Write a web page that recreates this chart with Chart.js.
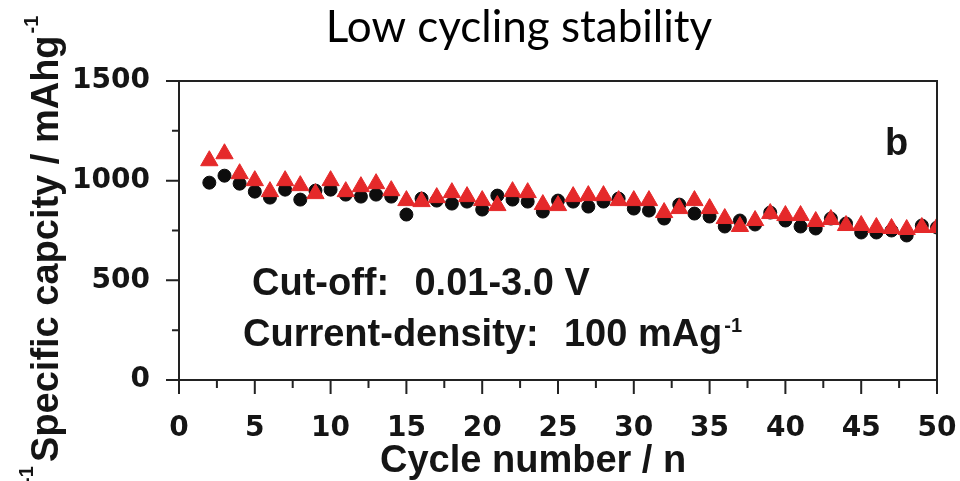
<!DOCTYPE html>
<html lang="en">
<head>
<meta charset="UTF-8">
<title>Low cycling stability</title>
<script src="https://cdn.jsdelivr.net/npm/chart.js"></script>
<style>
  html, body { margin: 0; padding: 0; background: #fff; }
</style>
</head>
<body>
<canvas id="cycleChart" width="960" height="481"></canvas>
<script>
// cycle index and capacities (mAh/g)
const cycles = [2, 3, 4, 5, 6, 7, 8, 9, 10, 11, 12, 13, 14, 15, 16, 17, 18, 19, 20, 21, 22, 23, 24, 25, 26,
                27, 28, 29, 30, 31, 32, 33, 34, 35, 36, 37, 38, 39, 40, 41, 42, 43, 44, 45, 46, 47, 48, 49, 50];
const capTriangle = [1100, 1135, 1035, 1000, 945, 1000, 975, 935, 1000, 945, 970, 985, 950, 900, 895, 915, 940, 920, 900, 875,
                     945, 940, 880, 875, 920, 925, 925, 900, 900, 900, 840, 860, 900, 860, 810, 770, 800, 835, 825, 825,
                     795, 805, 775, 775, 765, 760, 755, 765, 765];
const capCircle = [990, 1025, 985, 945, 915, 955, 905, 950, 955, 930, 920, 930, 920, 830, 910, 900, 885, 895, 855, 925,
                   905, 895, 845, 900, 895, 870, 895, 910, 860, 850, 810, 880, 835, 820, 770, 800, 780, 840, 800, 770,
                   760, 810, 785, 740, 740, 750, 725, 775, 765];
const xTicks = [0, 5, 10, 15, 20, 25, 30, 35, 40, 45, 50];
const yTicks = [0, 500, 1000, 1500];

const ink = '#151515';
const boldSans = '"Liberation Sans", Arial, sans-serif';
const tickFont = { family: '"DejaVu Sans", sans-serif', weight: 'bold', size: 28 };

function toPoints(ys) {
    return cycles.map((c, i) => ({ x: c, y: ys[i] }));
}

// "label: value" with the value set one em after the label, colon hugging the label
function labelValue(ctx, label, value, x, y, em) {
    ctx.fillText(label + ':', x, y);
    const vx = x + ctx.measureText(label).width + em;
    ctx.fillText(value, vx, y);
    return vx + ctx.measureText(value).width;
}

// frame, outward tick marks and all the text around the plot
const decorPlugin = {
    id: 'decor',
    afterDatasetsDraw(chart) {
        const ctx = chart.ctx;
        const area = chart.chartArea;
        const xs = chart.scales.x;
        const ys = chart.scales.y;
        ctx.save();
        ctx.strokeStyle = '#222';
        ctx.lineWidth = 2;
        ctx.strokeRect(area.left, area.top, area.right - area.left, area.bottom - area.top);

        ctx.beginPath();
        xTicks.forEach((v, i) => {
            const px = xs.getPixelForValue(v);
            ctx.moveTo(px, area.bottom);
            ctx.lineTo(px, area.bottom + 14);
            if (i < xTicks.length - 1) {
                const mx = xs.getPixelForValue((v + xTicks[i + 1]) / 2);
                ctx.moveTo(mx, area.bottom);
                ctx.lineTo(mx, area.bottom + 8);
            }
        });
        yTicks.forEach((v, i) => {
            const py = ys.getPixelForValue(v);
            ctx.moveTo(area.left, py);
            ctx.lineTo(area.left - 13, py);
            if (i < yTicks.length - 1) {
                const my = ys.getPixelForValue((v + yTicks[i + 1]) / 2);
                ctx.moveTo(area.left, my);
                ctx.lineTo(area.left - 7, my);
            }
        });
        ctx.stroke();

        ctx.textBaseline = 'alphabetic';

        // title
        ctx.fillStyle = '#000';
        ctx.font = '44px Lato, "Open Sans", sans-serif';
        ctx.textAlign = 'center';
        ctx.fillText('Low cycling stability', 519, 42);

        ctx.fillStyle = ink;
        ctx.textAlign = 'left';

        // x axis title
        ctx.font = 'bold 38px ' + boldSans;
        ctx.fillText('Cycle number / n', 380, 472);

        // y axis title, rotated
        ctx.save();
        ctx.translate(58, 462);
        ctx.rotate(-Math.PI / 2);
        ctx.font = 'bold 38px ' + boldSans;
        const yTitle = 'Specific capcity / mAhg';
        ctx.fillText(yTitle, 0, 0);
        const yw = ctx.measureText(yTitle).width;
        ctx.font = 'bold 20px ' + boldSans;
        ctx.fillText('-1', yw + 2, -20);
        ctx.restore();

        // leftover unit fragment at the lower left edge
        ctx.save();
        ctx.translate(33, 484);
        ctx.rotate(-Math.PI / 2);
        ctx.font = 'bold 20px ' + boldSans;
        ctx.fillText('-1', 0, 0);
        ctx.restore();

        // test conditions
        ctx.font = 'bold 38px ' + boldSans;
        labelValue(ctx, 'Cut-off', '0.01-3.0 V', 252, 295, 38);
        const end2 = labelValue(ctx, 'Current-density', '100 mAg', 243, 346, 38);
        ctx.font = 'bold 20px ' + boldSans;
        ctx.fillText('-1', end2 + 2, 332);

        // panel letter
        ctx.font = 'bold 38px ' + boldSans;
        ctx.fillText('b', 885, 155);
        ctx.restore();
    }
};

new Chart(document.getElementById('cycleChart'), {
    type: 'scatter',
    data: {
        datasets: [
            {
                label: 'triangle',
                data: toPoints(capTriangle),
                pointStyle: 'triangle',
                pointRadius: 10,
                backgroundColor: '#e5292a',
                borderColor: '#e5292a',
                borderWidth: 1
            },
            {
                label: 'circle',
                data: toPoints(capCircle),
                pointStyle: 'circle',
                pointRadius: 6.5,
                backgroundColor: '#0d0d0d',
                borderColor: '#0d0d0d',
                borderWidth: 1
            }
        ]
    },
    options: {
        responsive: false,
        animation: false,
        devicePixelRatio: 1,
        layout: { padding: { top: 81, right: 23, left: 0, bottom: 0 } },
        plugins: {
            legend: { display: false },
            tooltip: { enabled: false },
            title: { display: false }
        },
        scales: {
            x: {
                type: 'linear',
                min: 0,
                max: 50,
                afterBuildTicks: s => { s.ticks = xTicks.map(v => ({ value: v })); },
                afterFit: s => { s.height = 101; s.paddingLeft = 0; s.paddingRight = 0; },
                grid: { display: false, drawTicks: false },
                border: { display: false },
                ticks: { padding: 32, color: ink, font: tickFont, maxRotation: 0, autoSkip: false,
                         callback: v => String(v) }
            },
            y: {
                type: 'linear',
                min: 0,
                max: 1500,
                afterBuildTicks: s => { s.ticks = yTicks.map(v => ({ value: v })); },
                afterFit: s => { s.width = 179; s.paddingTop = 0; s.paddingBottom = 0; },
                grid: { display: false, drawTicks: false },
                border: { display: false },
                ticks: { padding: 29, color: ink, font: tickFont, callback: v => String(v) }
            }
        }
    },
    plugins: [decorPlugin]
});
</script>
</body>
</html>
